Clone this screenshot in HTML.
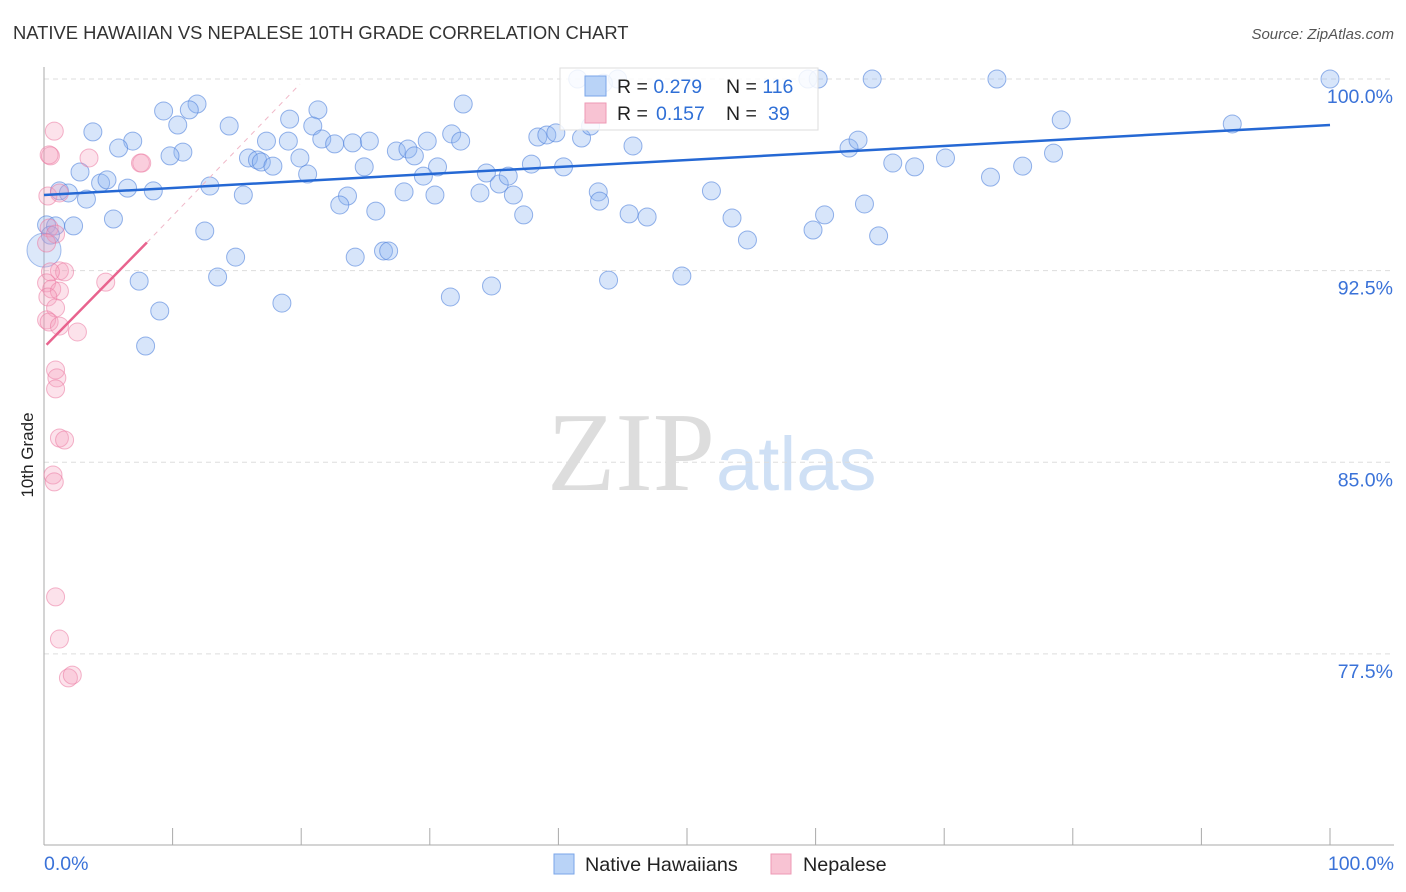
<!DOCTYPE html>
<html><head><meta charset="utf-8"><style>
html,body{margin:0;padding:0;background:#fff;width:1406px;height:892px;overflow:hidden;font-family:"Liberation Sans",sans-serif}
svg{position:absolute;left:0;top:0}
</style></head><body>
<svg id="chart" width="1406" height="892">
<text x="13" y="39" font-size="18.4" fill="#333">NATIVE HAWAIIAN VS NEPALESE 10TH GRADE CORRELATION CHART</text>
<text x="1394" y="39" font-size="15" fill="#555" text-anchor="end" font-style="italic">Source: ZipAtlas.com</text>
<text x="715" y="490" font-size="112" fill="#ddd" text-anchor="end" font-family="Liberation Serif,serif">ZIP</text>
<text x="716" y="490" font-size="76" fill="#cfe0f5">atlas</text>
<text transform="translate(33,455) rotate(-90)" font-size="17" fill="#222" text-anchor="middle">10th Grade</text>
<g id="grid"></g><g id="pts"></g><g id="lines"></g>
<g>
<rect x="560" y="68" width="258" height="62" fill="#fff" fill-opacity="0.85" stroke="#ddd"/>
<rect x="585" y="76" width="21" height="20" fill="#b9d3f7" stroke="#7aa6e8"/>
<rect x="585" y="103" width="21" height="20" fill="#f8c3d3" stroke="#ee9ab4"/>
<text x="617" y="93" font-size="19.5" fill="#222">R = <tspan fill="#2f6fd6">0.279</tspan><tspan x="726">N = </tspan><tspan fill="#2f6fd6">116</tspan></text>
<text x="617" y="120" font-size="19.5" fill="#222">R = <tspan x="656" fill="#2f6fd6">0.157</tspan><tspan x="726">N = </tspan><tspan x="768" fill="#2f6fd6">39</tspan></text>
</g>
<g>
<rect x="554" y="854" width="20" height="20" fill="#b9d3f7" stroke="#7aa6e8"/>
<text x="585" y="871" font-size="19.8" fill="#222">Native Hawaiians</text>
<rect x="771" y="854" width="20" height="20" fill="#f8c3d3" stroke="#ee9ab4"/>
<text x="803" y="871" font-size="19.8" fill="#222">Nepalese</text>
</g>
</svg>
<script>
const yTicks=[100,92.5,85,77.5];
const yTickLabels=["100.0%","92.5%","85.0%","77.5%"];
const xTickLabels=["0.0%","100.0%"];
const blueX=[41.5,44.6,59.4,60.2,64.4,74.1,100,9.3,11.9,11.3,21.3,32.6,3.8,6.9,5.8,10.4,14.4,19.1,20.9,10.8,9.8,2.8,1.2,1.9,3.3,4.4,4.9,6.5,8.5,5.4,0.2,2.3,12.9,15.5,15.9,16.6,16.9,17.3,19.0,17.8,19.9,20.5,21.6,22.6,24.0,25.3,24.9,23.6,23.0,25.8,27.4,28.3,28.8,29.8,30.6,31.7,32.4,29.5,28.0,30.4,33.9,34.4,35.4,36.1,36.5,37.3,37.9,38.4,39.1,39.8,40.4,41.8,42.5,43.1,43.2,43.5,45.5,46.9,45.8,51.9,53.5,54.7,59.8,60.7,62.6,63.3,63.8,64.9,66.0,67.7,70.1,73.6,76.1,78.5,79.1,92.4,12.5,14.9,13.5,18.5,24.2,26.4,26.8,7.4,9.0,7.9,31.6,34.8,43.9,49.6,0.9,0.5];
const blueY=[100,100,100,100,100,100,100,98.75,99.02,98.79,98.79,99.02,97.93,97.57,97.30,98.20,98.16,98.43,98.16,97.14,96.99,96.36,95.62,95.54,95.30,95.93,96.05,95.73,95.62,94.52,94.29,94.25,95.81,95.46,96.91,96.83,96.75,97.57,97.57,96.59,96.91,96.28,97.65,97.46,97.50,97.57,96.56,95.42,95.07,94.83,97.18,97.26,96.99,97.57,96.56,97.85,97.57,96.20,95.58,95.46,95.54,96.32,95.89,96.20,95.46,94.68,96.67,97.73,97.81,97.89,96.56,97.69,98.16,95.58,95.22,99.84,94.72,94.60,97.38,95.62,94.56,93.70,94.09,94.68,97.30,97.61,95.11,93.86,96.71,96.56,96.91,96.16,96.59,97.10,98.40,98.24,94.05,93.03,92.25,91.23,93.03,93.27,93.27,92.09,90.92,89.55,91.47,91.90,92.13,92.29,94.25,93.89];
const pinkX=[0.8,0.5,0.4,3.5,7.5,7.6,0.3,1.2,0.4,0.9,0.2,1.2,1.6,0.5,0.2,0.6,1.2,4.8,0.3,0.9,0.2,0.4,1.2,2.6,0.9,1.0,0.9,1.2,1.6,0.7,0.8,0.9,1.2,1.9,2.2];
const pinkY=[97.96,96.99,97.03,96.91,96.71,96.71,95.42,95.54,94.17,93.93,93.58,92.49,92.45,92.45,92.02,91.78,91.70,92.05,91.47,91.04,90.57,90.49,90.33,90.10,88.61,88.30,87.87,85.95,85.87,84.50,84.23,79.73,78.08,76.56,76.67];
const blueTrend=[[0,95.46],[100,98.2]];
const pinkTrend=[[0.2,89.6],[8.0,93.6]];
const pinkDash=[[8.0,93.6],[19.9,99.8]];
const NS='http://www.w3.org/2000/svg';
const X=v=>44+v*12.86, Y=v=>79+(100-v)*25.55;
function mk(t,a,p){const e=document.createElementNS(NS,t);for(const k in a)e.setAttribute(k,a[k]);p.appendChild(e);return e;}
const grid=document.getElementById('grid');
yTicks.forEach((t,i)=>{
 const l=mk('line',{x1:44,x2:1394,y1:Y(t),y2:Y(t),stroke:'#ddd','stroke-dasharray':'5,4'},grid);
 
 
 const tx=mk('text',{x:1393,y:Y(t)+24,'font-size':19.5,fill:'#3a72d8','text-anchor':'end'},grid);
 tx.textContent=yTickLabels[i];
 
 
});
const ax=mk('line',{x1:44,x2:44,y1:67,y2:845,stroke:'#aaa'},grid);


const bx=mk('line',{x1:44,x2:1394,y1:845,y2:845,stroke:'#aaa'},grid);


for(let i=0;i<=10;i++){
 const t=mk('line',{x1:X(i*10),x2:X(i*10),y1:828,y2:845,stroke:'#aaa'},grid);
 
 
}
[[0,44,'start'],[1,1394,'end']].forEach(([i,x,a])=>{
 const t=mk('text',{x:x,y:870,'font-size':19.5,fill:'#3a72d8','text-anchor':a},grid);
 t.textContent=xTickLabels[i];
 
 
});
const pts=document.getElementById('pts');
blueX.forEach((x,i)=>{
 const c=mk('circle',{cx:X(x),cy:Y(blueY[i]),r:9,fill:'rgba(140,180,240,0.35)',stroke:'rgba(80,130,220,0.6)','stroke-width':1},pts);
 
 
});
const big=mk('circle',{cx:X(0),cy:Y(93.3),r:17,fill:'rgba(140,180,240,0.3)',stroke:'rgba(80,130,220,0.5)'},pts);


pinkX.forEach((x,i)=>{
 const c=mk('circle',{cx:X(x),cy:Y(pinkY[i]),r:9,fill:'rgba(245,160,190,0.3)',stroke:'rgba(235,120,160,0.55)','stroke-width':1},pts);
 
 
});
const lines=document.getElementById('lines');
const b=mk('line',{x1:X(blueTrend[0][0]),y1:Y(blueTrend[0][1]),x2:X(blueTrend[1][0]),y2:Y(blueTrend[1][1]),stroke:'#2568d4','stroke-width':2.5},lines);


const p=mk('line',{x1:X(pinkTrend[0][0]),y1:Y(pinkTrend[0][1]),x2:X(pinkTrend[1][0]),y2:Y(pinkTrend[1][1]),stroke:'#e8638e','stroke-width':2.5},lines);


const pd=mk('line',{x1:X(pinkDash[0][0]),y1:Y(pinkDash[0][1]),x2:X(pinkDash[1][0]),y2:Y(pinkDash[1][1]),stroke:'#f0b8c8','stroke-width':1,'stroke-dasharray':'5,5'},lines);


</script>
</body></html>
